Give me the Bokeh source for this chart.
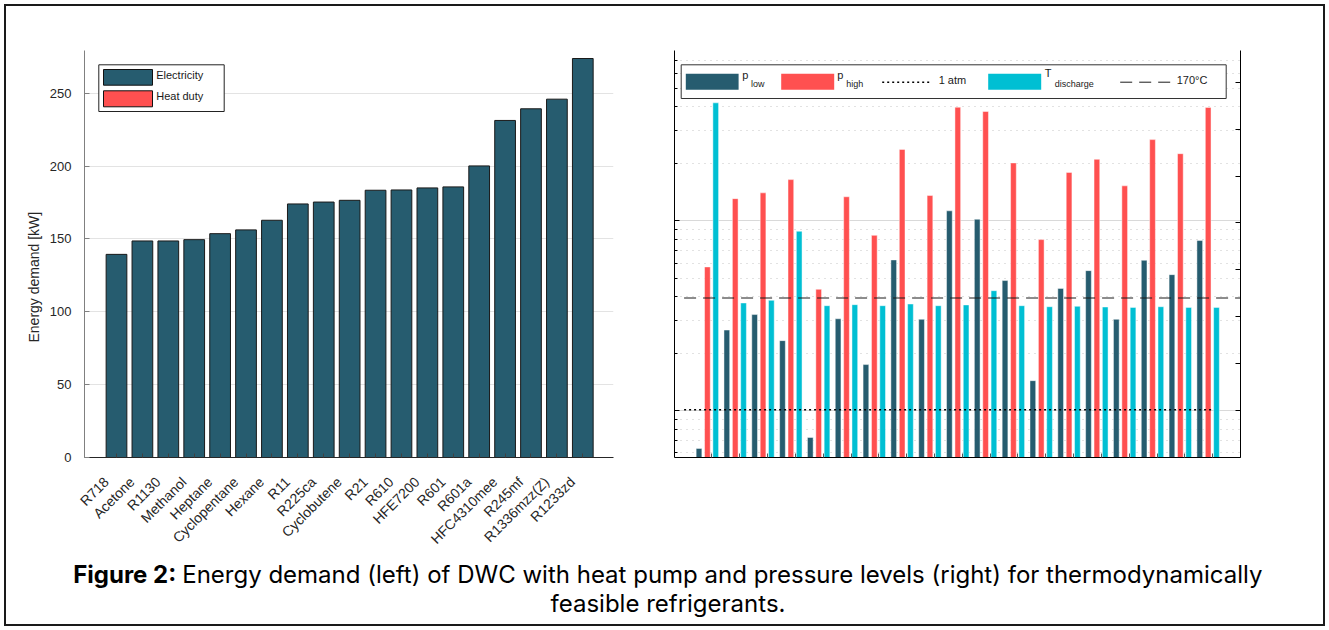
import math
from bokeh.plotting import figure
from bokeh.models import (Range1d, FixedTicker, LinearAxis, LinearScale,
                          CustomJSTickFormatter, Title)
from bokeh.layouts import row, column
from bokeh.core.properties import value
from bokeh.embed import file_html
from bokeh.resources import INLINE

# ---------------- data ----------------
refrigerants = ["R718", "Acetone", "R1130", "Methanol", "Heptane", "Cyclopentane", "Hexane",
                "R11", "R225ca", "Cyclobutene", "R21", "R610", "HFE7200", "R601", "R601a",
                "HFC4310mee", "R245mf", "R1336mzz(Z)", "R1233zd"]
electricity_kw = [139.4, 148.6, 148.6, 149.5, 153.6, 156.2, 162.8, 174.0, 175.3, 176.5,
                  183.4, 183.6, 185.0, 185.7, 200.1, 231.3, 239.3, 245.9, 273.8]
p_low_bar = [0.633, 2.66, 3.21, 2.34, 0.723, 3.05, 1.75, 6.23, 3.03, 11.3,
             10.2, 4.85, 1.44, 4.41, 5.47, 3.03, 6.2, 5.21, 7.88]
p_high_bar = [5.72, 13.1, 14.05, 16.5, 4.36, 13.4, 8.39, 23.8, 13.6, 39.7,
              37.7, 20.2, 7.97, 18.0, 21.1, 15.3, 26.8, 22.6, 39.6]
t_discharge_c = [378, 164.7, 167.5, 241.1, 161.8, 162.9, 161.8, 163.6, 161.8, 162.6,
                 177.8, 161.8, 160.7, 161.1, 160.4, 160.0, 160.7, 160.0, 160.0]
energy_ticks = [0, 50, 100, 150, 200, 250]
p_major_ticks = [1, 10]
p_minor_ticks = [0.6, 0.7, 0.8, 0.9, 2, 3, 4, 5, 6, 7, 8, 9, 20, 30, 40, 50, 60, 70]
t_ticks = [0, 50, 100, 150, 200, 250, 300, 350, 400]
P_ATM = 1.01325
T_LIMIT = 170
left_legend_labels = ["Electricity", "Heat duty"]
caption_bold = "Figure 2:"
caption_line1 = "Energy demand (left) of DWC with heat pump and pressure levels (right) for thermodynamically"
caption_line2 = "feasible refrigerants."

DARK = "#265c6f"
RED = "#ff5050"
CYAN = "#00bfd3"
FONT = "Liberation Sans"
TXT = "#262626"

empty_fmt = CustomJSTickFormatter(code="return ''")
n = len(refrigerants)
idx = list(range(n))
LABEL_SHIFT = 0.4

# ---------------- left chart ----------------
left = figure(x_range=Range1d(-1.235, 19.185), y_range=Range1d(0, 279.3),
              frame_width=529, frame_height=407,
              min_border_left=78, min_border_right=27, min_border_top=44, min_border_bottom=100,
              output_backend="svg", toolbar_location=None,
              background_fill_color="white", border_fill_color="white")
left.outline_line_color = None
left.extra_x_ranges = {"px": Range1d(0, 529)}
left.extra_y_ranges = {"py": Range1d(407, 0)}

left.vbar(x=idx, top=electricity_kw, width=0.8, fill_color=DARK,
          line_color="#1a1a1a", line_width=1)

ax = left.xaxis[0]
ax.ticker = FixedTicker(ticks=idx)
ax.formatter = empty_fmt
ax.major_tick_in = 4
ax.major_tick_out = 0
ax.minor_tick_in = 0
ax.minor_tick_out = 0
ax.major_label_standoff = 0
ax.major_label_text_font_size = "1px"
ax.axis_line_color = TXT
ax.major_tick_line_color = "#404040"

lab_axis = LinearAxis(
    ticker=FixedTicker(ticks=[i - LABEL_SHIFT for i in idx]),
    formatter=CustomJSTickFormatter(args=dict(names=refrigerants, off=LABEL_SHIFT),
                                    code="return names[Math.round(tick + off)] || '';"),
    major_label_orientation=math.pi / 4,
    major_label_text_font=FONT, major_label_text_font_size="14px",
    major_label_text_color=TXT, major_label_standoff=16,
    axis_line_color=None, major_tick_line_color=None, minor_tick_line_color=None)
left.add_layout(lab_axis, "below")

e_ticker = FixedTicker(ticks=energy_ticks)
ay = left.yaxis[0]
ay.ticker = e_ticker
ay.major_tick_in = 5
ay.major_tick_out = 0
ay.minor_tick_in = 0
ay.minor_tick_out = 0
ay.axis_line_color = "#808080"
ay.major_tick_line_color = "#808080"
ay.major_label_text_font = FONT
ay.major_label_text_font_size = "13px"
ay.major_label_text_color = TXT
ay.major_label_standoff = 13
left.ygrid.ticker = e_ticker
left.ygrid.grid_line_color = "#e3e3e3"
left.xgrid.grid_line_color = None

left.add_layout(Title(text="Energy demand [kW]", align="left", offset=115, standoff=10,
                      text_font=FONT, text_font_size="14px", text_font_style="normal",
                      text_color=TXT), "left")

# legend (left)
left.quad(left=[14.3], right=[139.7], top=[14.3], bottom=[61],
          x_range_name="px", y_range_name="py",
          fill_color="white", line_color="#222222", line_width=1)
left.quad(left=[19, 19], right=[68, 68], top=[19, 40.3], bottom=[34.7, 56.3],
          x_range_name="px", y_range_name="py",
          fill_color=[DARK, RED], line_color="#111111", line_width=1)
left.text(x=[71.7, 71.7], y=[24.7, 45.7], text=left_legend_labels,
          x_range_name="px", y_range_name="py",
          text_font=value(FONT), text_font_size="11px", text_color="#1a1a1a",
          text_baseline="alphabetic", text_align="left")

# ---------------- right chart ----------------
pos = [i + 1 for i in idx]
x_low = [v - 0.464 for v in pos]
x_high = [v - 0.162 for v in pos]
x_t = [v + 0.137 for v in pos]

right = figure(x_range=Range1d(-0.345, 20.0), y_range=Range1d(0.567, 79.0), y_axis_type="log",
               frame_width=566, frame_height=407,
               min_border_left=34, min_border_right=83, min_border_top=44, min_border_bottom=100,
               output_backend="svg", toolbar_location=None,
               background_fill_color="white", border_fill_color="white")
right.outline_line_color = None
right.extra_y_ranges = {"T": Range1d(0, 433.8), "py": Range1d(407, 0)}
right.extra_y_scales = {"T": LinearScale(), "py": LinearScale()}
right.extra_x_ranges = {"px": Range1d(0, 566)}

p_ticker = FixedTicker(ticks=p_major_ticks, minor_ticks=p_minor_ticks)
ry = right.yaxis[0]
ry.ticker = p_ticker
ry.formatter = empty_fmt
ry.major_tick_in = 5
ry.major_tick_out = 0
ry.minor_tick_in = 3
ry.minor_tick_out = 0
ry.axis_line_color = "black"
ry.major_tick_line_color = "black"
ry.minor_tick_line_color = "black"
right.ygrid.ticker = p_ticker
right.ygrid.grid_line_color = "#d9d9d9"
right.ygrid.minor_grid_line_color = "#c4c4c4"
right.ygrid.minor_grid_line_dash = "1 5"
right.xgrid.grid_line_color = None

rx = right.xaxis[0]
rx.ticker = FixedTicker(ticks=pos)
rx.formatter = empty_fmt
rx.major_tick_in = 4
rx.major_tick_out = 0
rx.major_label_text_font_size = "1px"
rx.axis_line_color = "black"
rx.major_tick_line_color = "#555555"

t_axis = LinearAxis(y_range_name="T", ticker=FixedTicker(ticks=t_ticks), formatter=empty_fmt,
                    major_tick_in=5, major_tick_out=0, minor_tick_in=0, minor_tick_out=0,
                    axis_line_color="black", major_tick_line_color="black")
right.add_layout(t_axis, "right")

right.vbar(x=x_low, top=p_low_bar, bottom=0.01, width=0.205, fill_color=DARK,
           line_color="white", line_alpha=0.45, line_width=1)
right.vbar(x=x_high, top=p_high_bar, bottom=0.01, width=0.205, fill_color=RED,
           line_color="white", line_alpha=0.45, line_width=1)
right.vbar(x=x_t, top=t_discharge_c, bottom=0, width=0.205, fill_color=CYAN,
           line_color="white", line_alpha=0.45, line_width=1, y_range_name="T")
right.line(x=[0, n], y=[P_ATM, P_ATM], line_color="black", line_width=1.5, line_dash="2 3")
right.line(x=[0, n + 1], y=[T_LIMIT, T_LIMIT], y_range_name="T",
           line_color="#1a1a1a", line_width=1, line_dash="12 7")

# legend (right), frame-pixel coordinates
right.quad(left=[6.7], right=[551.7], top=[14.3], bottom=[48],
           x_range_name="px", y_range_name="py",
           fill_color="white", line_color="#333333", line_width=1)
right.quad(left=[11.3, 106.7, 313.7], right=[64.1, 159.7, 366.7],
           top=[23.3, 23.3, 23.3], bottom=[39.3, 39.3, 39.3],
           x_range_name="px", y_range_name="py",
           fill_color=[DARK, RED, CYAN], line_color=None)
right.line(x=[207.7, 256.7], y=[31.7, 31.7], x_range_name="px", y_range_name="py",
           line_color="black", line_width=1.5, line_dash="2 3")
right.line(x=[445.7, 498.3], y=[31.7, 31.7], x_range_name="px", y_range_name="py",
           line_color="#1a1a1a", line_width=1, line_dash="12 7")
right.text(x=[67.7, 162.7, 370.2], y=[24.7, 24.7, 22.7], text=["p", "p", "T"],
           x_range_name="px", y_range_name="py",
           text_font=value(FONT), text_font_size="11px", text_color="#1a1a1a",
           text_baseline="alphabetic", text_align="left")
right.text(x=[76.4, 171.7, 380.2], y=[33.8, 33.8, 33.8], text=["low", "high", "discharge"],
           x_range_name="px", y_range_name="py",
           text_font=value(FONT), text_font_size="9px", text_color="#1a1a1a",
           text_baseline="alphabetic", text_align="left")
right.text(x=[264.2, 502.2], y=[29.2, 29.2], text=["1 atm", "170°C"],
           x_range_name="px", y_range_name="py",
           text_font=value(FONT), text_font_size="11px", text_color="#1a1a1a",
           text_baseline="alphabetic", text_align="left")

# ---------------- caption ----------------
cap = figure(width=1317, height=67, x_range=Range1d(0, 1317), y_range=Range1d(67, 0),
             min_border=0, x_axis_location=None, y_axis_location=None,
             output_backend="svg", toolbar_location=None,
             background_fill_color="white", border_fill_color="white")
cap.grid.visible = False
cap.outline_line_color = None
cap.text(x=[66.7], y=[17], text=[caption_bold], text_font=value("Inter"),
         text_font_style="bold", text_font_size="24px", text_color="black",
         text_baseline="alphabetic", text_align="left")
cap.text(x=[175.7], y=[17], text=[caption_line1], text_font=value("Inter"),
         text_font_size="24px", text_color="black",
         text_baseline="alphabetic", text_align="left")
cap.text(x=[661.5], y=[46], text=[caption_line2], text_font=value("Inter"),
         text_font_size="24px", text_color="black",
         text_baseline="alphabetic", text_align="center")

layout = column(row(left, right), cap,
                styles={"border": "2px solid #1a1a1a", "margin": "4px"})

open("out.html", "w").write(file_html(layout, INLINE))
